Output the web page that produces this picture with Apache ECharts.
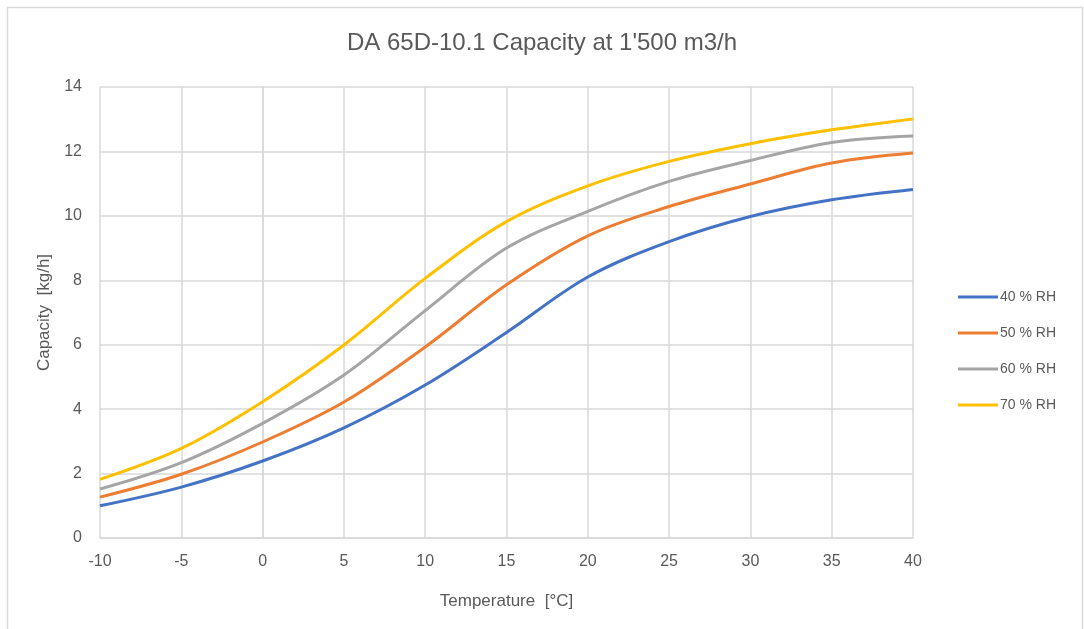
<!DOCTYPE html>
<html>
<head>
<meta charset="utf-8">
<script src="https://cdn.jsdelivr.net/npm/echarts@6/dist/echarts.min.js"></script>
<style>html,body{margin:0;padding:0;background:#fff;}#c{width:1084px;height:629px;}</style>
</head>
<body>
<div id="c"></div>
<script>
var temperatures = [-10, -5, 0, 5, 10, 15, 20, 25, 30, 35, 40];
var rh40 = [1.00, 1.58, 2.39, 3.42, 4.75, 6.38, 8.10, 9.20, 9.98, 10.50, 10.82];
var rh50 = [1.27, 1.98, 2.98, 4.22, 5.93, 7.86, 9.38, 10.29, 10.99, 11.64, 11.95];
var rh60 = [1.52, 2.34, 3.56, 5.06, 7.06, 9.00, 10.14, 11.07, 11.72, 12.28, 12.48];
var rh70 = [1.82, 2.78, 4.23, 5.99, 8.06, 9.82, 10.93, 11.69, 12.24, 12.67, 13.01];
var seriesNames = ['40 % RH', '50 % RH', '60 % RH', '70 % RH'];
var seriesColors = ['#4472C4', '#ED7D31', '#A5A5A5', '#FFC000'];
var xTicks = {min: -10, max: 40, step: 5};
var yTicks = {min: 0, max: 14, step: 2};

function pairs(vals){ return temperatures.map(function(t,i){ return [t, vals[i]]; }); }
var allVals = [rh40, rh50, rh60, rh70];
var FONT = "'Liberation Sans', sans-serif";

var chart = echarts.init(document.getElementById('c'), null, {renderer: 'canvas'});
chart.setOption({
  animation: false,
  backgroundColor: '#fff',
  graphic: [{
    type: 'rect', silent: true, z: -10,
    shape: {x: 7.5, y: 7.5, width: 1075, height: 640},
    style: {fill: 'none', stroke: '#d9d9d9', lineWidth: 1.5}
  }],
  title: {
    text: "DA 65D-10.1 Capacity at 1'500 m3/h",
    left: 'center', top: 26,
    textStyle: {fontFamily: FONT, fontSize: 24, fontWeight: 'normal', color: '#595959'}
  },
  grid: {left: 100, right: 171, top: 87, bottom: 91, containLabel: false},
  legend: {
    orient: 'vertical', left: 953, top: 285, itemGap: 22,
    itemWidth: 40, itemHeight: 3, icon: 'rect',
    textStyle: {fontFamily: FONT, fontSize: 14, color: '#595959', padding: [0,0,0,-3]},
    data: seriesNames
  },
  xAxis: {
    type: 'value', min: xTicks.min, max: xTicks.max, interval: xTicks.step,
    name: 'Temperature  [°C]', nameLocation: 'middle', nameGap: 55,
    nameTextStyle: {fontFamily: FONT, fontSize: 17, color: '#595959'},
    axisLine: {show: true, lineStyle: {color: '#d9d9d9', width: 1.5}},
    axisTick: {show: false},
    axisLabel: {fontFamily: FONT, fontSize: 16, color: '#595959', margin: 16},
    splitLine: {show: true, lineStyle: {color: '#d9d9d9', width: 1.5}}
  },
  yAxis: {
    type: 'value', min: yTicks.min, max: yTicks.max, interval: yTicks.step,
    name: 'Capacity  [kg/h]', nameLocation: 'middle', nameGap: 43,
    nameTextStyle: {fontFamily: FONT, fontSize: 17, color: '#595959'},
    axisLine: {show: true, lineStyle: {color: '#d9d9d9', width: 1.5}},
    axisTick: {show: false},
    axisLabel: {fontFamily: FONT, fontSize: 16, color: '#595959', margin: 18},
    splitLine: {show: true, lineStyle: {color: '#d9d9d9', width: 1.5}}
  },
  series: seriesNames.map(function(n, i){
    return {
      name: n, type: 'line', data: pairs(allVals[i]),
      smooth: 0.35, showSymbol: false, symbol: 'none',
      lineStyle: {color: seriesColors[i], width: 3},
      itemStyle: {color: seriesColors[i]}
    };
  })
});
</script>
</body>
</html>
